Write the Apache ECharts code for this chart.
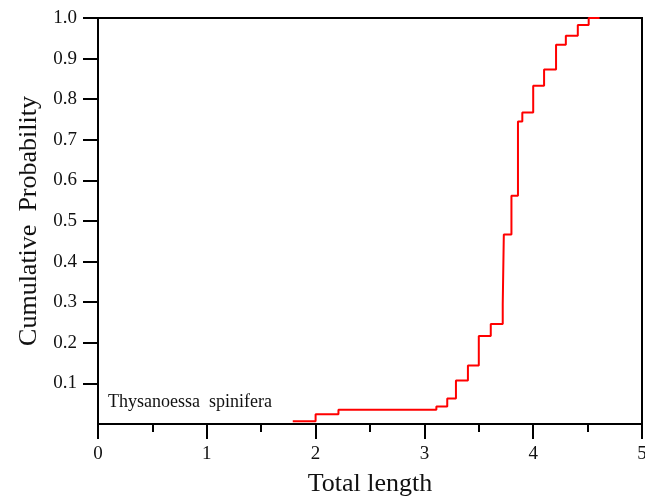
<!DOCTYPE html>
<html>
<head>
<meta charset="utf-8">
<script src="https://cdn.jsdelivr.net/npm/echarts@6/dist/echarts.min.js"></script>
<style>html,body{margin:0;padding:0;background:#fff}#c{width:645px;height:496px}</style>
</head>
<body>
<div id="c"></div>
<script>
// Step points: length at which the cumulative probability jumps, and the new value
var lengths = [1.79, 2.00, 2.21, 3.11, 3.21, 3.29, 3.40, 3.50, 3.61, 3.72, 3.73, 3.80, 3.86, 3.90, 4.00, 4.10, 4.21, 4.30, 4.41, 4.51, 4.61];
var cumProb = [0.007, 0.024, 0.035, 0.043, 0.063, 0.107, 0.144, 0.217, 0.246, 0.295, 0.467, 0.562, 0.745, 0.767, 0.833, 0.873, 0.934, 0.956, 0.983, 1.0, 1.0];
var yTicks = [0.1, 0.2, 0.3, 0.4, 0.5, 0.6, 0.7, 0.8, 0.9, 1.0];
var xTicks = [0, 1, 2, 3, 4, 5];
var speciesLabel = 'Thysanoessa  spinifera';

var data = lengths.map(function (x, i) { return [x, cumProb[i]]; });
var font = '"Liberation Serif", "DejaVu Serif", serif';
var chart = echarts.init(document.getElementById('c'));
chart.setOption({
  animation: false,
  backgroundColor: '#fff',
  grid: { left: 98, right: 3, top: 18, bottom: 72, show: true, borderColor: '#000', borderWidth: 2,
    containLabel: false, outerBoundsMode: 'none' },
  xAxis: {
    type: 'value', min: 0, max: 5, interval: 1,
    name: 'Total length', nameLocation: 'middle', nameGap: 47,
    nameTextStyle: { fontFamily: font, fontSize: 26, color: '#111' },
    axisLine: { show: true, lineStyle: { color: '#000', width: 2 } },
    axisTick: { show: true, inside: false, length: 15, lineStyle: { color: '#000', width: 2 } },
    minorTick: { show: true, splitNumber: 2, length: 8, lineStyle: { color: '#000', width: 2 } },
    axisLabel: { fontFamily: font, fontSize: 19, color: '#111', margin: 21,
      customValues: xTicks },
    splitLine: { show: false }
  },
  yAxis: {
    type: 'value', min: 0, max: 1, interval: 0.1,
    name: 'Cumulative  Probability', nameLocation: 'middle', nameGap: 49,
    nameTextStyle: { fontFamily: font, fontSize: 26, color: '#111' },
    axisLine: { show: true, lineStyle: { color: '#000', width: 2 } },
    axisTick: { show: true, inside: false, length: 15, lineStyle: { color: '#000', width: 2 }, customValues: yTicks },
    axisLabel: { fontFamily: font, fontSize: 19, color: '#111', margin: 21,
      customValues: yTicks,
      formatter: function (v) { return v.toFixed(1); } },
    splitLine: { show: false }
  },
  graphic: [{
    type: 'text', left: 108, top: 393,
    style: { text: speciesLabel, font: '18px ' + font, fill: '#111' }
  }],
  series: [{
    type: 'line', step: 'end', data: data, showSymbol: false,
    lineStyle: { color: '#ff0000', width: 2 }, itemStyle: { color: '#ff0000' }
  }]
});
</script>
</body>
</html>
